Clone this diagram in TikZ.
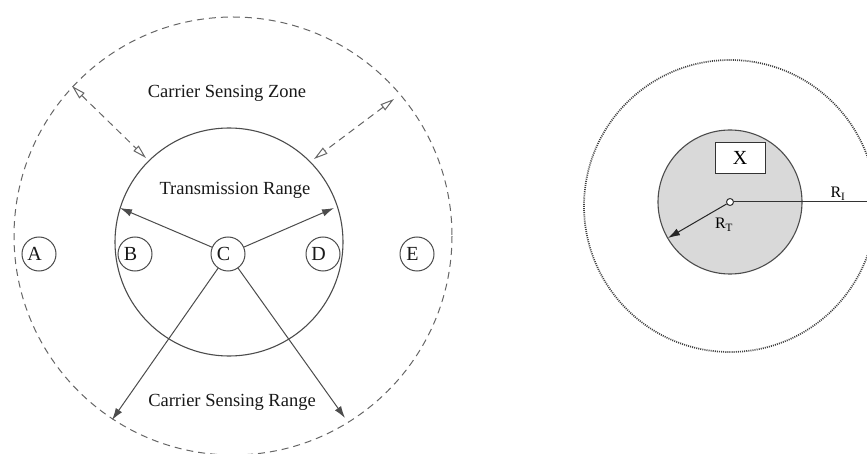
\documentclass[tikz,border=0pt]{standalone}
\usepackage{fontspec}
\setmainfont{Liberation Serif}
\usetikzlibrary{arrows.meta}
\newcommand{\shiftlet}[1]{\hspace*{-9pt}\raisebox{-2.5pt}{#1}}
\begin{document}
\begin{tikzpicture}[x=1pt,y=-1pt,
  lbl/.style={font=\fontsize{18.5}{20}\selectfont, text=black!90},
  nodec/.style={circle, draw=black!70, line width=1pt, minimum size=34pt, inner sep=0pt, font=\fontsize{20}{20}\selectfont, text=black!90},
  solidarr/.style={draw=black!70, line width=1pt, -{Latex[length=12pt,width=7.5pt]}},
  zonearr/.style={draw=black!60, line width=1pt, dash pattern=on 7pt off 5pt, {Triangle[open,length=14pt,width=7.5pt]}-{Triangle[open,length=14pt,width=7.5pt]}}
]
\useasboundingbox (0,0) rectangle (867,454);
\fill[white] (0,0) rectangle (867,454);
\begin{scope}
\clip (0,0) rectangle (867,454);
% ---------- left figure ----------
\draw[black!60, line width=1pt, dash pattern=on 7pt off 5pt] (233,236) circle (219);
\draw[black!70, line width=1.1pt] (229,242) circle (114);
\node[nodec] (A) at (39,254) {\shiftlet{A}};
\node[nodec] (B) at (135,254) {\shiftlet{B}};
\node[nodec] (C) at (228,254) {\shiftlet{C}};
\node[nodec] (D) at (323,254) {\shiftlet{D}};
\node[nodec] (E) at (417,254) {\shiftlet{E}};
\node[lbl] (csz) at (227,93) {Carrier Sensing Zone};
\node[lbl] (tr) at (235,190) {Transmission Range};
\node[lbl] (csr) at (232,402) {Carrier Sensing Range};
\coordinate (t1) at (120,208);
\coordinate (t2) at (334,208);
\coordinate (s1) at (112,420);
\coordinate (s2) at (345,418);
\coordinate (z1a) at (72,86);
\coordinate (z1b) at (146,158);
\coordinate (z2a) at (394,99);
\coordinate (z2b) at (314,159);
\draw[solidarr] (C) -- (t1);
\draw[solidarr] (C) -- (t2);
\draw[solidarr] (C) -- (s1);
\draw[solidarr] (C) -- (s2);
\draw[zonearr] (z1a) -- (z1b);
\draw[zonearr] (z2a) -- (z2b);
% ---------- right figure ----------
\draw[black!75, line width=1.7pt, dash pattern=on 1pt off 1.1pt] (730,206) circle (146);
\draw[black!70, line width=1.1pt, fill=black!15] (730,202) circle (72);
\node[draw=black!80, fill=white, line width=1pt, minimum width=50pt, minimum height=31pt, inner sep=0pt, font=\fontsize{20}{20}\selectfont] (X) at (740,158) {X};
\node[circle, draw=black!80, fill=white, line width=1pt, minimum size=7pt, inner sep=0pt] (O) at (730,202) {};
\coordinate (rt) at (668,238);
\coordinate (ri) at (880,202);
\draw[solidarr, draw=black!85] (O) -- (rt);
\draw[draw=black!80, line width=1pt] (O) -- (ri);
\node[font=\fontsize{16}{16}\selectfont] (RI) at (838,194) {R\textsubscript{I}};
\node[font=\fontsize{16}{16}\selectfont] (RT) at (724,225) {R\textsubscript{T}};
\end{scope}
\end{tikzpicture}
\end{document}
